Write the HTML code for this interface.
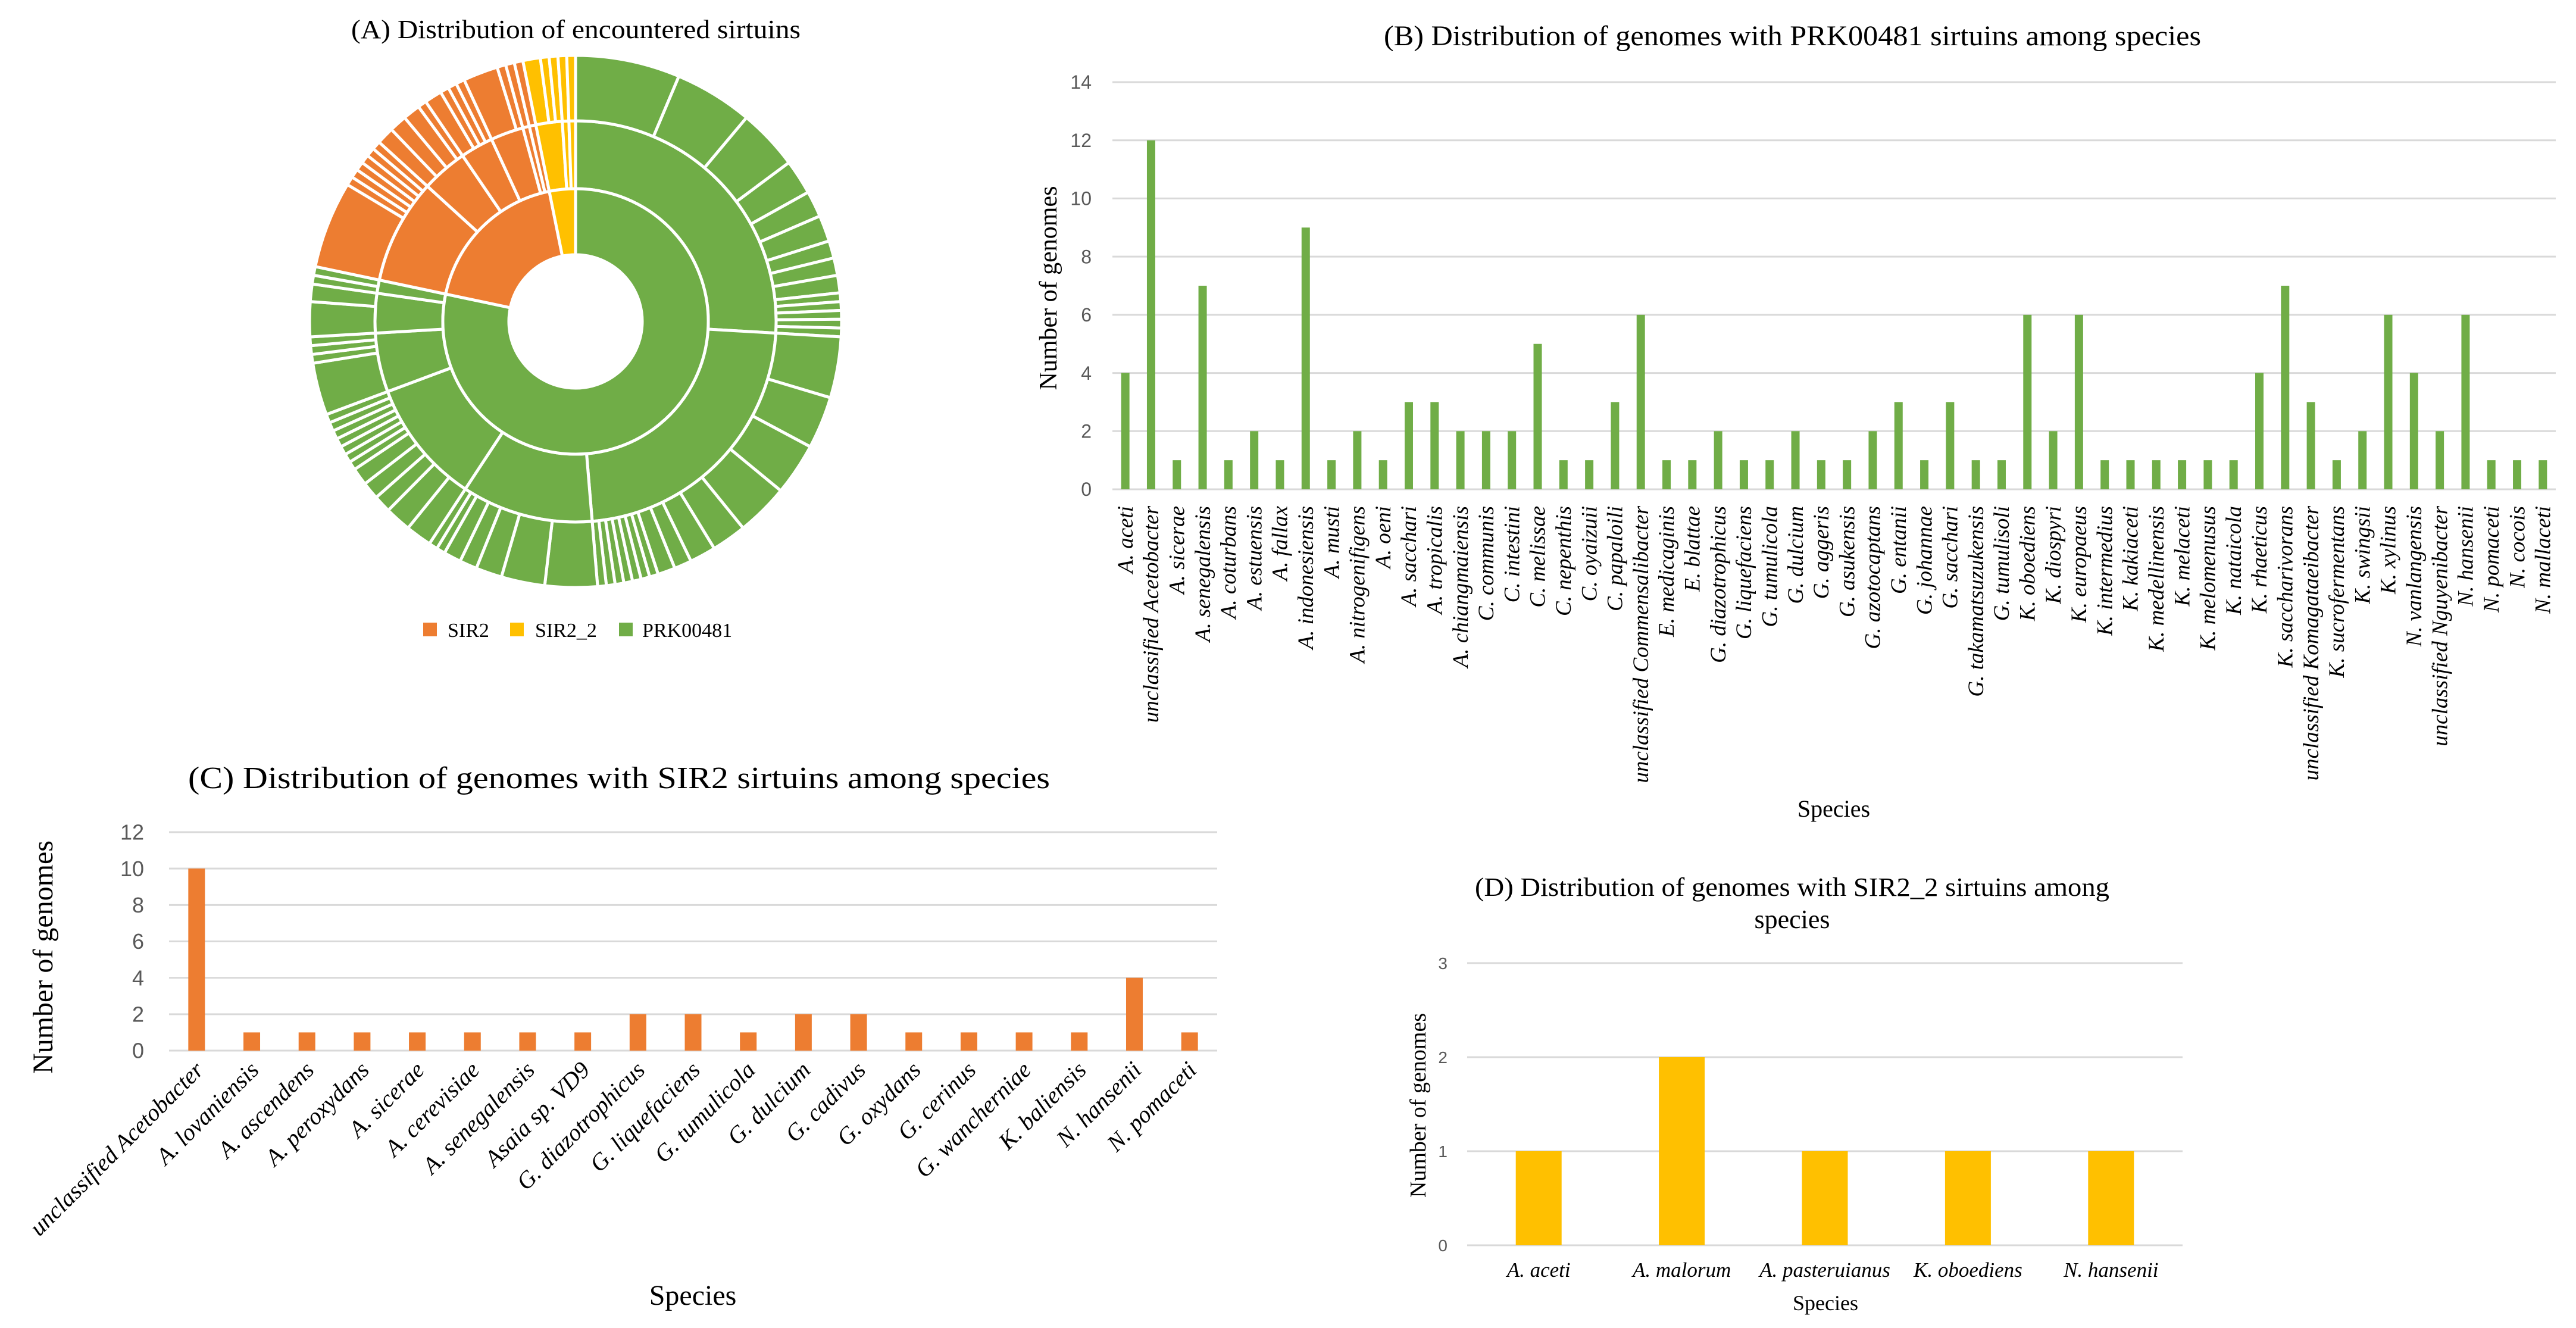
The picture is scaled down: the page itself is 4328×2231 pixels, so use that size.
<!DOCTYPE html>
<html><head><meta charset="utf-8">
<style>
html,body{margin:0;padding:0;background:#fff;}
svg{display:block;}
.serif{font-family:"Liberation Serif",serif;fill:#000;}
.tick{font-family:"Liberation Sans",sans-serif;fill:#595959;}
</style></head>
<body>
<svg id="root" width="4328" height="2231" viewBox="0 0 4328 2231" xmlns="http://www.w3.org/2000/svg">
  <text class="serif" x="590" y="64" font-size="44" textLength="755" lengthAdjust="spacingAndGlyphs">(A) Distribution of encountered sirtuins</text>
  <g id="sunburst"></g>
  <g id="legendA">
    <rect x="711" y="1046" width="23" height="23" fill="#ED7D31"/>
    <text class="serif" x="752" y="1070" font-size="34">SIR2</text>
    <rect x="857" y="1046" width="23" height="23" fill="#FFC000"/>
    <text class="serif" x="899" y="1070" font-size="34">SIR2_2</text>
    <rect x="1040" y="1046" width="23" height="23" fill="#70AD47"/>
    <text class="serif" x="1079" y="1070" font-size="34">PRK00481</text>
  </g>

  <text class="serif" x="2325" y="76" font-size="48" textLength="1373" lengthAdjust="spacingAndGlyphs">(B) Distribution of genomes with PRK00481 sirtuins among species</text>
  <g id="chartB"></g>
  <text class="serif" x="0" y="0" font-size="42" text-anchor="middle" transform="translate(1775,484) rotate(-90)">Number of genomes</text>
  <text class="serif" x="3081" y="1372" font-size="40" text-anchor="middle">Species</text>

  <text class="serif" x="316" y="1324" font-size="52" textLength="1448" lengthAdjust="spacingAndGlyphs">(C) Distribution of genomes with SIR2 sirtuins among species</text>
  <g id="chartC"></g>
  <text class="serif" x="0" y="0" font-size="48" text-anchor="middle" transform="translate(88,1608) rotate(-90)">Number of genomes</text>
  <text class="serif" x="1164" y="2192" font-size="48" text-anchor="middle">Species</text>

  <text class="serif" x="2478" y="1505" font-size="44" textLength="1066" lengthAdjust="spacingAndGlyphs">(D) Distribution of genomes with SIR2_2 sirtuins among</text>
  <text class="serif" x="3011" y="1559" font-size="44" text-anchor="middle">species</text>
  <g id="chartD"></g>
  <text class="serif" x="0" y="0" font-size="38" text-anchor="middle" transform="translate(2395,1857) rotate(-90)">Number of genomes</text>
  <text class="serif" x="3067" y="2201" font-size="36" text-anchor="middle">Species</text>
</svg>
<script>
const NS = "http://www.w3.org/2000/svg";
// ---- Panel B data (PRK00481) ----
const bCategories = ["A. aceti","unclassified Acetobacter","A. sicerae","A. senegalensis","A. coturbans","A. estuensis","A. fallax","A. indonesiensis","A. musti","A. nitrogenifigens","A. oeni","A. sacchari","A. tropicalis","A. chiangmaiensis","C. communis","C. intestini","C. melissae","C. nepenthis","C. oyaizuii","C. papaloili","unclassified Commensalibacter","E. medicaginis","E. blattae","G. diazotrophicus","G. liquefaciens","G. tumulicola","G. dulcium","G. aggeris","G. asukensis","G. azotocaptans","G. entanii","G. johannae","G. sacchari","G. takamatsuzukensis","G. tumulisoli","K. oboediens","K. diospyri","K. europaeus","K. intermedius","K. kakiaceti","K. medellinensis","K. melaceti","K. melomenusus","K. nataicola","K. rhaeticus","K. saccharivorans","unclassified Komagataeibacter","K. sucrofermentans","K. swingsii","K. xylinus","N. vanlangensis","unclassified Nguyenibacter","N. hansenii","N. pomaceti","N. cocois","N. mallaceti"];
const bValues = [4,12,1,7,1,2,1,9,1,2,1,3,3,2,2,2,5,1,1,3,6,1,1,2,1,1,2,1,1,2,3,1,3,1,1,6,2,6,1,1,1,1,1,1,4,7,3,1,2,6,4,2,6,1,1,1];
const bGenus = ["Acetobacter","Acetobacter","Acetobacter","Acetobacter","Acetobacter","Acetobacter","Acetobacter","Acetobacter","Acetobacter","Acetobacter","Acetobacter","Acetobacter","Acetobacter","Acetobacter","Commensalibacter","Commensalibacter","Commensalibacter","Commensalibacter","Commensalibacter","Commensalibacter","Commensalibacter","Endobacter","Endobacter","Gluconacetobacter","Gluconacetobacter","Gluconacetobacter","Gluconacetobacter","Gluconacetobacter","Gluconacetobacter","Gluconacetobacter","Gluconacetobacter","Gluconacetobacter","Gluconacetobacter","Gluconacetobacter","Gluconacetobacter","Komagataeibacter","Komagataeibacter","Komagataeibacter","Komagataeibacter","Komagataeibacter","Komagataeibacter","Komagataeibacter","Komagataeibacter","Komagataeibacter","Komagataeibacter","Komagataeibacter","Komagataeibacter","Komagataeibacter","Komagataeibacter","Komagataeibacter","Nguyenibacter","Nguyenibacter","Novacetimonas","Novacetimonas","Novacetimonas","Novacetimonas"];
const bTicks = [0,2,4,6,8,10,12,14];
// ---- Panel C data (SIR2) ----
const cCategories = ["unclassified Acetobacter","A. lovaniensis","A. ascendens","A. peroxydans","A. sicerae","A. cerevisiae","A. senegalensis","Asaia sp. VD9","G. diazotrophicus","G. liquefaciens","G. tumulicola","G. dulcium","G. cadivus","G. oxydans","G. cerinus","G. wancherniae","K. baliensis","N. hansenii","N. pomaceti"];
const cValues = [10,1,1,1,1,1,1,1,2,2,1,2,2,1,1,1,1,4,1];
const cGenus = ["Acetobacter","Acetobacter","Acetobacter","Acetobacter","Acetobacter","Acetobacter","Acetobacter","Asaia","Gluconacetobacter","Gluconacetobacter","Gluconacetobacter","Gluconacetobacter","Gluconobacter","Gluconobacter","Gluconobacter","Gluconobacter","Komagataeibacter","Novacetimonas","Novacetimonas"];
const cTicks = [0,2,4,6,8,10,12];
// ---- Panel D data (SIR2_2) ----
const dCategories = ["A. aceti","A. malorum","A. pasteruianus","K. oboediens","N. hansenii"];
const dValues = [1,2,1,1,1];
const dGenus = ["Acetobacter","Acetobacter","Acetobacter","Komagataeibacter","Novacetimonas"];
const dTicks = [0,1,2,3];

function el(tag, attrs, parent){ const e=document.createElementNS(NS,tag); for(const k in attrs) e.setAttribute(k,attrs[k]); parent.appendChild(e); return e; }

function barChart(o){
  const g=document.getElementById(o.id);
  const n=o.cats.length, step=(o.x1-o.x0)/n;
  const yMax=o.ticks[o.ticks.length-1];
  const ys=v=>o.y0-(v/yMax)*(o.y0-o.yTop);
  const xs=i=>o.x0+step*(i+0.5);
  o.ticks.forEach(t=>{
    const l=el('line',{x1:o.x0,x2:o.x1,y1:ys(t),y2:ys(t),stroke:'#d9d9d9','stroke-width':3},g);
    
    
    const tx=el('text',{x:o.tickX,y:ys(t)+o.tickFs*0.35,'text-anchor':'end','font-size':o.tickFs,class:'tick'},g);
    tx.textContent=t;
    
    
  });
  o.vals.forEach((v,i)=>{
    const r=el('rect',{x:xs(i)-o.bw/2,y:ys(v),width:o.bw,height:o.y0-ys(v),fill:o.color},g);
    
    
  });
  o.cats.forEach((c,i)=>{
    let t;
    if(o.rot===-90){
      t=el('text',{x:0,y:0,'text-anchor':'end','font-size':o.labFs,class:'serif','font-style':'italic',transform:`translate(${xs(i)+o.labFs*0.33},${o.labY}) rotate(-90)`},g);
    } else if(o.rot===-45){
      t=el('text',{x:0,y:0,'text-anchor':'end','font-size':o.labFs,class:'serif','font-style':'italic',transform:`translate(${xs(i)+14},${o.labY}) rotate(-45)`},g);
    } else {
      t=el('text',{x:xs(i),y:o.labY,'text-anchor':'middle','font-size':o.labFs,class:'serif','font-style':'italic'},g);
    }
    t.textContent=c;
    
    
  });
}
barChart({id:'chartB',cats:bCategories,vals:bValues,ticks:bTicks,x0:1869,x1:4294,y0:822,yTop:138,bw:14,color:'#70AD47',tickX:1834,tickFs:32,rot:-90,labY:850,labFs:37});
barChart({id:'chartC',cats:cCategories,vals:cValues,ticks:cTicks,x0:284,x1:2045,y0:1765,yTop:1398,bw:28,color:'#ED7D31',tickX:242,tickFs:36,rot:-45,labY:1800,labFs:40});
barChart({id:'chartD',cats:dCategories,vals:dValues,ticks:dTicks,x0:2465,x1:3667,y0:2092,yTop:1618,bw:77,color:'#FFC000',tickX:2432,tickFs:28,rot:0,labY:2145,labFs:35});

// ---- Sunburst (derived from the three data sets) ----
(function(){
  const g=document.getElementById('sunburst');
  const cx=967, cy=540, R0=112, R1=223, R2=337, R3=447;
  const groups=[
    {name:'PRK00481',color:'#70AD47',cats:bCategories,vals:bValues,gen:bGenus},
    {name:'SIR2',color:'#ED7D31',cats:cCategories,vals:cValues,gen:cGenus},
    {name:'SIR2_2',color:'#FFC000',cats:dCategories,vals:dValues,gen:dGenus}
  ];
  const total=groups.reduce((s,gr)=>s+gr.vals.reduce((a,b)=>a+b,0),0);
  const pt=(r,a)=>[cx+r*Math.sin(a),cy-r*Math.cos(a)];
  function arc(r0,r1,a0,a1,color,name){
    const large=(a1-a0)>Math.PI?1:0;
    const [x0,y0]=pt(r1,a0),[x1,y1]=pt(r1,a1),[x2,y2]=pt(r0,a1),[x3,y3]=pt(r0,a0);
    const p=el('path',{d:`M${x0},${y0}A${r1},${r1} 0 ${large} 1 ${x1},${y1}L${x2},${y2}A${r0},${r0} 0 ${large} 0 ${x3},${y3}Z`,fill:color,stroke:'#fff','stroke-width':5,'stroke-linejoin':'round'},g);
    
    
  }
  let a=0;
  groups.forEach(gr=>{
    const sum=gr.vals.reduce((x,y)=>x+y,0);
    const gStart=a;
    const genera={};
    gr.vals.forEach((v,i)=>{ (genera[gr.gen[i]]=genera[gr.gen[i]]||[]).push(i); });
    const gl=Object.keys(genera).map(k=>({k,idx:genera[k],tot:genera[k].reduce((s,i)=>s+gr.vals[i],0)}));
    gl.sort((p,q)=>q.tot-p.tot);
    let ga=gStart;
    gl.forEach(gg=>{
      const span=gg.tot/total*2*Math.PI;
      arc(R1,R2,ga,ga+span,gr.color,'ring-genus-'+gg.k.toLowerCase());
      const sp=gg.idx.slice().sort((p,q)=>gr.vals[q]-gr.vals[p]);
      let sa=ga;
      sp.forEach(i=>{
        const s2=gr.vals[i]/total*2*Math.PI;
        arc(R2,R3,sa,sa+s2,gr.color,'ring-species-segment');
        sa+=s2;
      });
      ga+=span;
    });
    const span=sum/total*2*Math.PI;
    arc(R0,R1,gStart,gStart+span,gr.color,'ring-type-'+gr.name.toLowerCase());
    a+=span;
  });
})();
</script>
</body></html>
